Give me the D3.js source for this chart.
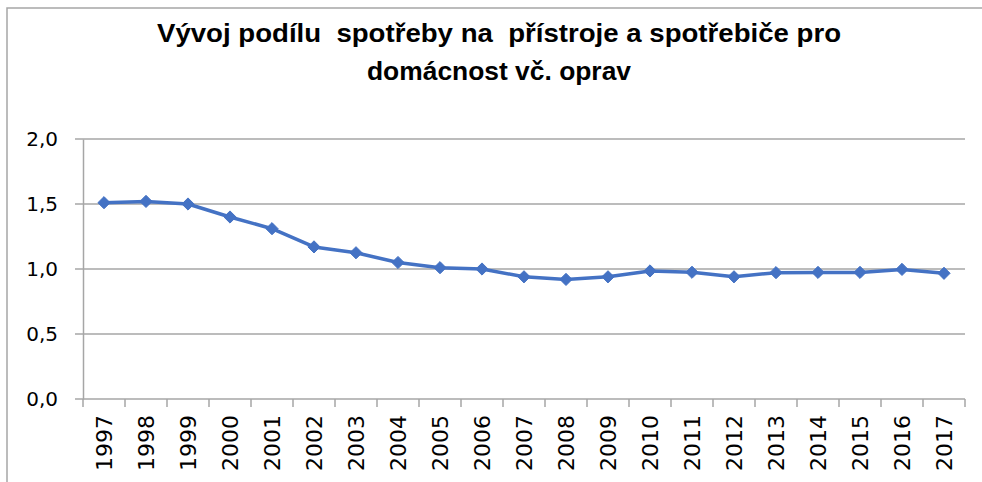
<!DOCTYPE html>
<html>
<head>
<meta charset="utf-8">
<script src="https://cdn.jsdelivr.net/npm/d3@7"></script>
<style>
  body { margin: 0; background: #fff; }
  svg { display: block; }
</style>
</head>
<body>
<svg class="chart" width="982" height="482"></svg>
<script>
"use strict";

var years = ['1997', '1998', '1999', '2000', '2001', '2002', '2003', '2004', '2005', '2006', '2007',
  '2008', '2009', '2010', '2011', '2012', '2013', '2014', '2015', '2016', '2017'];
var shares = [1.51, 1.52, 1.50, 1.40, 1.31, 1.17, 1.125, 1.05, 1.01, 1.00, 0.94,
  0.92, 0.94, 0.985, 0.975, 0.94, 0.972, 0.974, 0.974, 0.997, 0.967];
var yTicks = [0, 0.5, 1, 1.5, 2];
var titleLines = ['Vývoj podílu  spotřeby na  přístroje a spotřebiče pro', 'domácnost vč. oprav'];

var margin = {left: 83, right: 17, top: 139, bottom: 83};
var W = 982, H = 482;

var chart = d3.select('.chart');

// frame
chart.append('rect')
  .attr('x', 7).attr('y', 8).attr('width', 1000).attr('height', 500)
  .attr('fill', 'none').attr('stroke', '#A6A6A6').attr('stroke-width', 1.5);

// title
var titleW = [684, 264];
var titleY = [42, 80];
chart.selectAll('.title')
  .data(titleLines)
  .enter()
  .append('text')
    .attr('class', 'title')
    .attr('x', 499)
    .attr('y', function (d, i) { return titleY[i]; })
    .attr('text-anchor', 'middle')
    .attr('textLength', function (d, i) { return titleW[i]; })
    .attr('lengthAdjust', 'spacingAndGlyphs')
    .style('font-family', '"Liberation Sans Narrow", "Liberation Sans", Arial, sans-serif')
    .style('font-weight', 'bold')
    .style('font-size', '25px')
    .style('white-space', 'pre')
    .attr('fill', '#000')
    .text(function (d) { return d; });

var x = d3.scaleBand().domain(years).range([margin.left, W - margin.right]);
var y = d3.scaleLinear().domain([0, 2]).range([H - margin.bottom, margin.top]);

var fmt = function (v) { return d3.format('.1f')(v).replace('.', ','); };

// gridlines
chart.append('g')
  .selectAll('line')
  .data(yTicks)
  .enter()
  .append('line')
    .attr('x1', margin.left - 8)
    .attr('x2', W - margin.right)
    .attr('y1', function (d) { return y(d); })
    .attr('y2', function (d) { return y(d); })
    .attr('stroke', '#A6A6A6')
    .attr('stroke-width', 1.5);

// y axis
var yAxis = chart.append('g')
  .attr('transform', 'translate(' + margin.left + ',0)')
  .call(d3.axisLeft(y).tickValues(yTicks).tickFormat(fmt).tickSize(0).tickPadding(25));
yAxis.select('.domain').attr('stroke', '#A6A6A6').attr('stroke-width', 1.5);
yAxis.selectAll('text')
  .style('font-family', '"DejaVu Sans", sans-serif')
  .style('font-size', '20px')
  .attr('fill', '#000');

// x axis
var xAxis = chart.append('g')
  .attr('transform', 'translate(0,' + y(0) + ')')
  .call(d3.axisBottom(x).tickSize(0));
xAxis.select('.domain').remove();
xAxis.selectAll('.tick line').remove();
xAxis.selectAll('text')
  .attr('transform', 'rotate(-90)')
  .attr('x', -16)
  .attr('y', 0)
  .attr('dy', '0.35em')
  .style('text-anchor', 'end')
  .style('font-family', '"DejaVu Sans", sans-serif')
  .style('font-size', '22px')
  .attr('fill', '#000');

// category boundary ticks
var bounds = years.map(function (d) { return x(d); }).concat([x(years[years.length - 1]) + x.bandwidth()]);
chart.append('g')
  .selectAll('line')
  .data(bounds)
  .enter()
  .append('line')
    .attr('x1', function (d) { return d; })
    .attr('x2', function (d) { return d; })
    .attr('y1', y(0))
    .attr('y2', y(0) + 8)
    .attr('stroke', '#A6A6A6')
    .attr('stroke-width', 1.5);

// series
var pts = years.map(function (d, i) { return {year: d, value: shares[i]}; });
var cx = function (d) { return x(d.year) + x.bandwidth() / 2; };

chart.append('path')
  .datum(pts)
  .attr('fill', 'none')
  .attr('stroke', '#4472C4')
  .attr('stroke-width', 3.5)
  .attr('stroke-linejoin', 'round')
  .attr('d', d3.line().x(cx).y(function (d) { return y(d.value); }));

chart.selectAll('.marker')
  .data(pts)
  .enter()
  .append('path')
    .attr('class', 'marker')
    .attr('d', d3.symbol().type(d3.symbolDiamond2).size(95))
    .attr('transform', function (d) { return 'translate(' + cx(d) + ',' + y(d.value) + ')'; })
    .attr('fill', '#4472C4')
    .attr('stroke', '#4472C4')
    .attr('stroke-width', 1);
</script>
</body>
</html>
